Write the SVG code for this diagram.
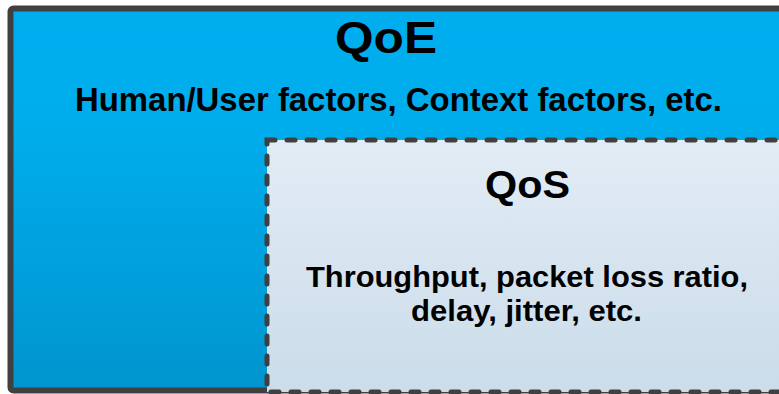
<svg xmlns="http://www.w3.org/2000/svg" width="779" height="394" viewBox="0 0 779 394">
  <defs>
    <linearGradient id="qoeFill" x1="0" y1="0" x2="0" y2="1">
      <stop offset="0" stop-color="#00AEEF"/>
      <stop offset="0.3" stop-color="#00ADEC"/>
      <stop offset="1" stop-color="#0095CF"/>
    </linearGradient>
    <linearGradient id="qosFill" x1="0" y1="0" x2="0" y2="1">
      <stop offset="0" stop-color="#E2ECF5"/>
      <stop offset="1" stop-color="#CBDCEA"/>
    </linearGradient>
  </defs>
  <style>
    .label { font-family: "Liberation Sans", Arial, sans-serif; font-weight: bold; fill: #000; text-anchor: middle; }
    .title { font-size: 45px; }
    .qos { font-size: 38px; }
    .body { font-size: 33px; }
    .small { font-size: 29.5px; }
  </style>
  <rect x="0" y="0" width="779" height="394" fill="#FFFFFF"/>
  <g id="qoe">
    <rect x="10.5" y="8.5" width="790" height="382" rx="3" fill="url(#qoeFill)" stroke="#404040" stroke-width="6"/>
    <text class="label title" x="386" y="53" textLength="102" lengthAdjust="spacingAndGlyphs">QoE</text>
    <text class="label body" x="398.5" y="111" textLength="647" lengthAdjust="spacingAndGlyphs">Human/User factors, Context factors, etc.</text>
  </g>
  <g id="qos">
    <rect x="267" y="140" width="540" height="252" fill="url(#qosFill)" stroke="#404040" stroke-width="5" stroke-linecap="round" stroke-dasharray="8 12"/>
    <text class="label qos" x="527.5" y="198" textLength="85" lengthAdjust="spacingAndGlyphs">QoS</text>
    <text class="label small" x="527" y="287" textLength="442" lengthAdjust="spacingAndGlyphs">Throughput, packet loss ratio,</text>
    <text class="label small" x="526.5" y="321" textLength="231" lengthAdjust="spacingAndGlyphs">delay, jitter, etc.</text>
  </g>
</svg>
